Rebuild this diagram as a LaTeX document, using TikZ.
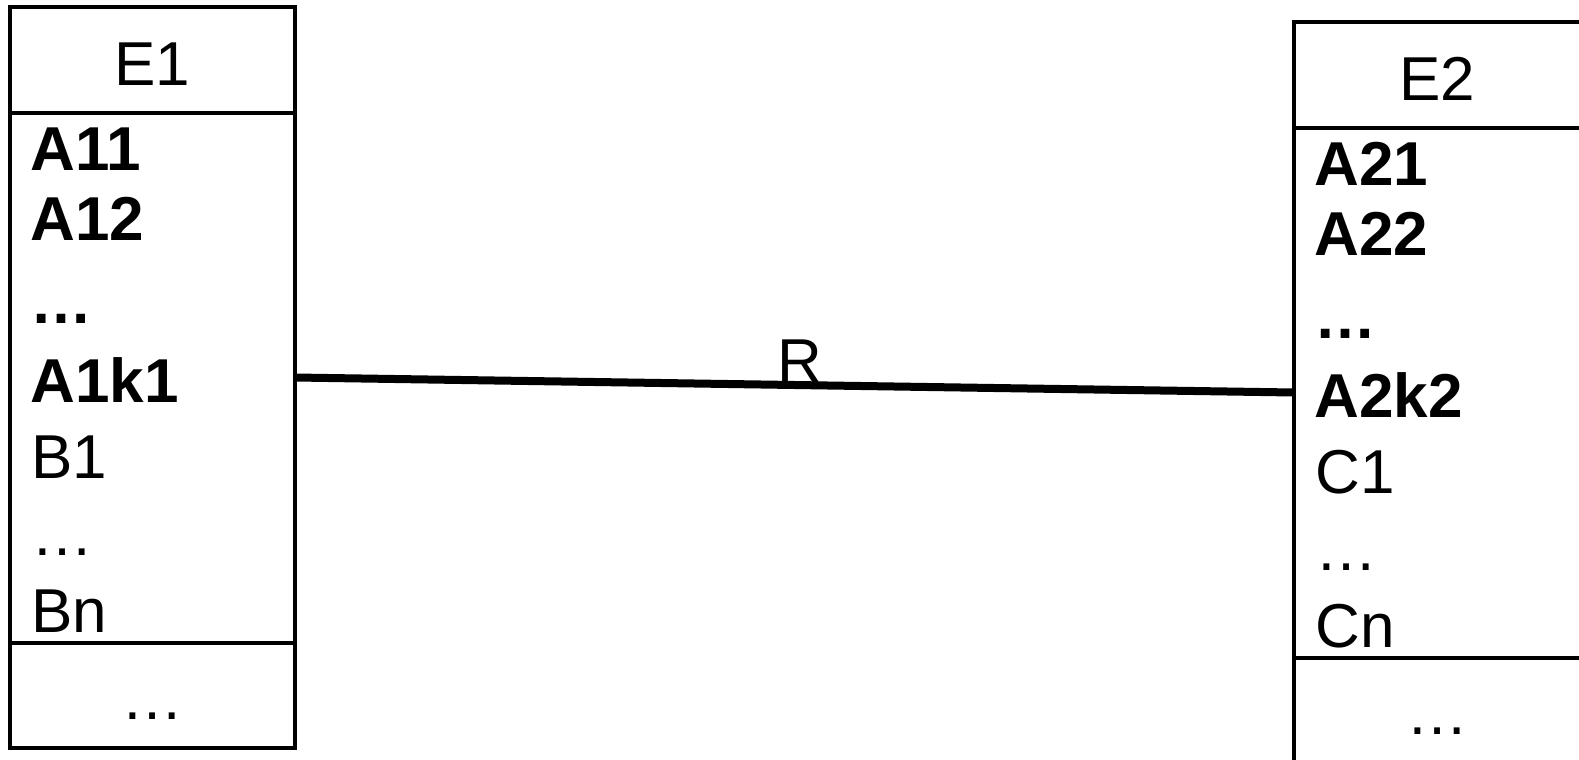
\documentclass[tikz,border=0pt]{standalone}
\usepackage{fontspec}
\setmainfont{Liberation Sans}
\begin{document}
\begin{tikzpicture}[x=0.5pt,y=-0.5pt,
  entity/.style={draw, line width=2pt, minimum height=370.5pt, inner sep=0pt, outer sep=0pt},
  sepline/.style={line width=2pt},
  conn/.style={line width=4pt},
  txt/.style={inner sep=0pt, font=\fontsize{31}{37}\selectfont},
  attr/.style={txt, anchor=base west},
  key/.style={attr, font=\fontsize{31}{37}\selectfont\bfseries},
  title/.style={txt, anchor=base},
]
\path[use as bounding box] (0,0) rectangle (1579,760);
\clip (0,0) rectangle (1579,760);

% Entity E1
\node[entity, minimum width=142.5pt] (e1) at (152.5,377.5) {};
\draw[sepline] ([shift={(0,106)}]e1.north west) -- ([shift={(0,106)}]e1.north east);
\draw[sepline] ([shift={(0,636)}]e1.north west) -- ([shift={(0,636)}]e1.north east);
\node[title] (e1t) at (152.5,85) {E1};
\node[key] (a11) at (30,170) {A11};
\node[key] (a12) at (30,240) {A12};
\node[key] (a1d) at (30,323) {…};
\node[key] (a1k) at (30,402) {A1k1};
\node[attr] (b1) at (31,478) {B1};
\node[attr] (b1d) at (31,555) {…};
\node[attr] (bn) at (31,632) {Bn};
\node[title] (e1o) at (152.5,719) {…};

% Entity E2 (right edge lies outside the picture)
\node[entity, minimum width=146pt] (e2) at (1440,392.5) {};
\draw[sepline] ([shift={(0,106)}]e2.north west) -- ([shift={(0,106)}]e2.north east);
\draw[sepline] ([shift={(0,636)}]e2.north west) -- ([shift={(0,636)}]e2.north east);
\node[title] (e2t) at (1437.5,100) {E2};
\node[key] (a21) at (1314,185) {A21};
\node[key] (a22) at (1314,255) {A22};
\node[key] (a2d) at (1314,338) {…};
\node[key] (a2k) at (1314,417) {A2k2};
\node[attr] (c1) at (1315,493) {C1};
\node[attr] (c1d) at (1315,570) {…};
\node[attr] (cn) at (1315,647) {Cn};
\node[title] (e2o) at (1437.5,734) {…};

% Relationship
\draw[conn] (e1.east) -- node[title, xshift=2.5pt, yshift=1.5pt] (r) {R} (e2.west);
\end{tikzpicture}
\end{document}
